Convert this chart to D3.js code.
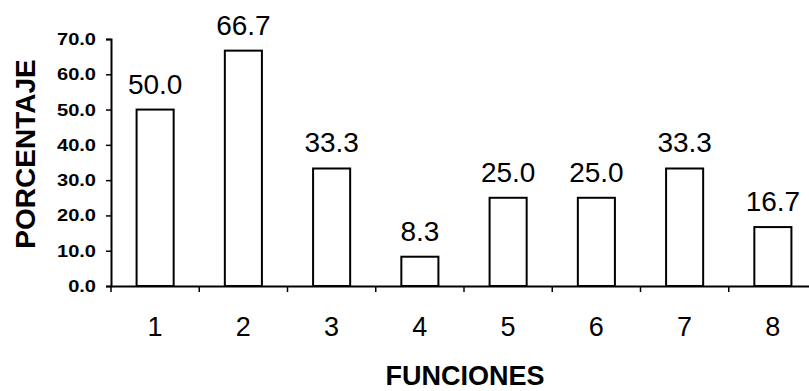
<!DOCTYPE html>
<html><head><meta charset="utf-8">
<script src="https://cdn.jsdelivr.net/npm/d3@7"></script>
<style>body{margin:0;background:#fff}svg{display:block}</style>
</head><body>
<svg id="c" width="809" height="391"></svg>
<script>
const categories = ["1","2","3","4","5","6","7","8"];
const values = [50.0, 66.7, 33.3, 8.3, 25.0, 25.0, 33.3, 16.7];
const yTicks = [0,10,20,30,40,50,60,70];
const yTitle = "PORCENTAJE";
const xTitle = "FUNCIONES";

const svg = d3.select("#c");
const x = d3.scaleBand().domain(categories).range([111, 817]).paddingInner(0.58).paddingOuter(0.29);
const xb = d3.scaleBand().domain(categories).range([111, 817]);
const y = d3.scaleLinear().domain([0, 70]).range([286, 39]);

// y axis
const ya = svg.append("g").attr("transform","translate(111,0)")
  .call(d3.axisLeft(y).tickValues(yTicks).tickSize(5).tickFormat(d3.format(".1f")));
ya.select(".domain").attr("stroke","#000").attr("stroke-width",2);
ya.selectAll(".tick line").attr("stroke","#000").attr("stroke-width",1.5);
ya.selectAll(".tick text").attr("x",-15/1.18).attr("fill","#000")
  .attr("transform","scale(1.18,1)")
  .style("font-family","'Liberation Sans', Arial, sans-serif").style("font-size","17px").style("font-weight","bold");

// x axis
const xa = svg.append("g").attr("transform","translate(0,286)")
  .call(d3.axisBottom(xb).tickSize(0).tickPadding(31));
xa.select(".domain").attr("stroke","#000").attr("stroke-width",2);
xa.selectAll(".tick text").attr("fill","#000")
  .style("font-family","'Liberation Sans', Arial, sans-serif").style("font-size","27px");
// boundary ticks
svg.append("g").selectAll("line").data(categories).join("line")
  .attr("x1", d => xb(d)).attr("x2", d => xb(d))
  .attr("y1", 286).attr("y2", 292).attr("stroke","#000").attr("stroke-width",1.5);

// bars
svg.append("g").selectAll("rect").data(values).join("rect")
  .attr("x", (d,i) => x(categories[i]))
  .attr("y", d => y(d))
  .attr("width", x.bandwidth())
  .attr("height", d => y(0) - y(d))
  .attr("fill","#fff").attr("stroke","#000").attr("stroke-width",2);

// value labels
svg.append("g").selectAll("text").data(values).join("text")
  .attr("x", (d,i) => x(categories[i]) + x.bandwidth()/2)
  .attr("y", d => y(d) - 16)
  .attr("text-anchor","middle").attr("fill","#000")
  .style("font-family","'Liberation Sans', Arial, sans-serif").style("font-size","28px")
  .text(d => d3.format(".1f")(d));

// titles
svg.append("text").attr("transform","translate(35,154) rotate(-90)")
  .attr("text-anchor","middle").attr("fill","#000")
  .style("font-family","'Liberation Sans', Arial, sans-serif").style("font-size","28px").style("font-weight","bold")
  .text(yTitle);
svg.append("text").attr("x",465).attr("y",385)
  .attr("text-anchor","middle").attr("fill","#000")
  .style("font-family","'Liberation Sans', Arial, sans-serif").style("font-size","27px").style("font-weight","bold")
  .text(xTitle);
</script>
</body></html>
